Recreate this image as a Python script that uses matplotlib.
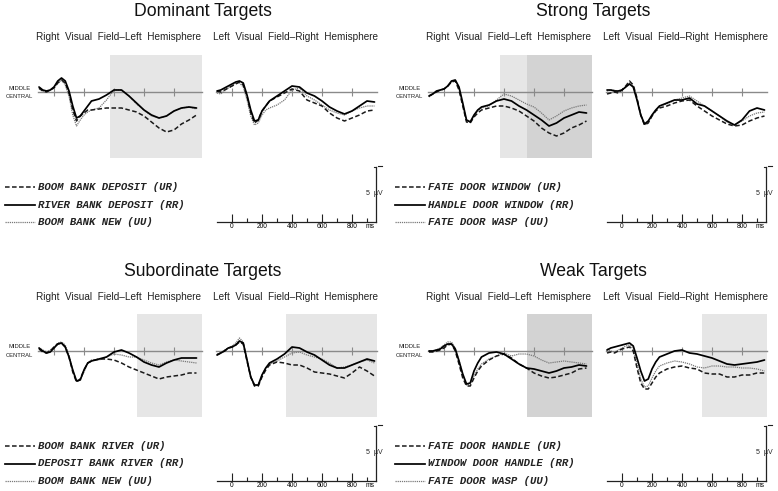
import matplotlib
matplotlib.use("Agg")
import matplotlib.pyplot as plt
import numpy as np

# figure size in pixels (dpi 100)
W, H = 778, 491

# sample times (ms) shared by all waveforms
times = [-100, -75, -50, -25, 0, 25, 50, 75, 100, 125, 150, 175, 200, 225, 250,
         300, 350, 400, 450, 500, 550, 600, 650, 700, 750, 800, 850, 900, 950]

titles = ["Dominant Targets", "Strong Targets", "Subordinate Targets", "Weak Targets"]
hemi_labels = ["Right  Visual  Field\u2013Left  Hemisphere",
               "Left  Visual  Field\u2013Right  Hemisphere"]
legend_labels = [
    ["BOOM BANK DEPOSIT (UR)", "RIVER BANK DEPOSIT (RR)", "BOOM BANK NEW (UU)"],
    ["FATE DOOR WINDOW (UR)", "HANDLE DOOR WINDOW (RR)", "FATE DOOR WASP (UU)"],
    ["BOOM BANK RIVER (UR)", "DEPOSIT BANK RIVER (RR)", "BOOM BANK NEW (UU)"],
    ["FATE DOOR HANDLE (UR)", "WINDOW DOOR HANDLE (RR)", "FATE DOOR WASP (UU)"],
]
time_ticks = [0, 200, 400, 600, 800]

# amplitudes (uV), positive up
dom_lh_ur = [0.4, 0.1, 0.0, 0.2, 0.4, 0.9, 1.2, 0.9, -0.1, -1.8, -2.9, -2.4, -2.1, -1.8, -1.8,
             -1.7, -1.6, -1.6, -1.6, -1.8, -2.0, -2.4, -3.0, -3.6, -4.0, -3.8, -3.2, -2.8, -2.3]
dom_lh_rr = [0.5, 0.2, 0.1, 0.2, 0.5, 1.1, 1.4, 1.1, 0.1, -1.4, -2.6, -2.4, -1.9, -1.4, -0.9,
             -0.7, -0.3, 0.2, 0.2, -0.4, -1.1, -1.8, -2.3, -2.6, -2.4, -1.9, -1.6, -1.5, -1.6]
dom_lh_uu = [0.3, 0.1, 0.0, 0.2, 0.4, 0.9, 1.2, 0.7, -0.4, -2.3, -3.4, -2.8, -2.3, -2.0, -1.8,
             -1.6, -0.8, 0.2, 0.2, -0.4, -1.2, -1.8, -2.4, -2.6, -2.4, -1.9, -1.6, -1.5, -1.7]

dom_rh_ur = [0.1, 0.0, 0.2, 0.4, 0.6, 0.8, 1.0, 0.7, -0.4, -2.1, -3.1, -2.8, -1.9, -1.4, -0.9,
             -0.5, -0.1, 0.3, 0.1, -0.8, -1.1, -1.4, -2.1, -2.6, -2.9, -2.6, -2.3, -1.9, -1.8]
dom_rh_rr = [0.1, 0.2, 0.4, 0.6, 0.8, 1.0, 1.1, 0.9, -0.3, -1.8, -2.9, -2.8, -1.9, -1.4, -0.9,
             -0.4, 0.1, 0.6, 0.5, -0.1, -0.4, -0.9, -1.5, -1.9, -2.2, -1.9, -1.4, -0.9, -1.0]
dom_rh_uu = [-0.1, -0.2, 0.1, 0.4, 0.6, 0.9, 0.9, 0.5, -0.8, -2.4, -3.3, -3.1, -2.3, -1.8, -1.6,
             -1.3, -0.8, 0.2, 0.4, -0.4, -0.8, -1.3, -1.8, -2.1, -2.3, -1.9, -1.6, -1.4, -1.4]

strong_lh_ur = [-0.4, -0.2, 0.0, 0.2, 0.3, 0.6, 1.0, 1.1, 0.2, -1.4, -3.0, -3.1, -2.5, -2.1, -1.8,
                -1.6, -1.4, -1.4, -1.6, -1.9, -2.4, -2.9, -3.6, -4.1, -4.4, -4.1, -3.6, -3.3, -2.9]
strong_lh_rr = [-0.4, -0.2, 0.1, 0.2, 0.3, 0.6, 1.1, 1.2, 0.5, -1.1, -2.8, -3.0, -2.3, -1.8, -1.5,
                -1.3, -0.9, -0.7, -0.9, -1.4, -1.8, -2.3, -2.8, -3.4, -3.1, -2.6, -2.3, -2.0, -2.1]
strong_lh_uu = [-0.5, -0.2, 0.0, 0.2, 0.3, 0.6, 1.0, 1.2, 0.4, -1.3, -2.8, -2.9, -2.4, -1.9, -1.6,
                -1.4, -0.8, -0.2, -0.4, -0.8, -1.2, -1.5, -2.1, -2.8, -2.4, -1.9, -1.6, -1.4, -1.3]

strong_rh_ur = [-0.2, -0.1, 0.0, -0.1, 0.2, 0.6, 1.1, 0.7, -0.6, -2.3, -3.3, -3.1, -2.4, -1.9, -1.6,
                -1.4, -1.1, -0.9, -0.8, -1.4, -1.9, -2.4, -2.8, -3.2, -3.4, -3.3, -2.9, -2.6, -2.4]
strong_rh_rr = [0.2, 0.2, 0.1, 0.1, 0.2, 0.5, 0.8, 0.5, -0.8, -2.3, -3.2, -2.9, -2.3, -1.8, -1.4,
                -1.1, -0.8, -0.8, -0.6, -1.2, -1.4, -1.9, -2.4, -2.9, -3.3, -2.8, -1.9, -1.6, -1.8]
strong_rh_uu = [0.1, 0.2, 0.2, 0.0, 0.2, 0.5, 0.9, 0.6, -0.7, -2.3, -3.3, -3.0, -2.4, -1.8, -1.4,
                -1.2, -0.8, -0.6, -0.4, -0.9, -1.4, -1.9, -2.4, -3.0, -3.3, -2.9, -2.4, -2.1, -2.0]

sub_lh_ur = [0.2, -0.1, -0.2, 0.0, 0.4, 0.7, 0.8, 0.4, -0.6, -2.1, -3.1, -2.8, -1.9, -1.2, -1.0,
             -0.8, -0.8, -0.9, -1.2, -1.6, -1.9, -2.2, -2.5, -2.8, -2.6, -2.5, -2.4, -2.2, -2.2]
sub_lh_rr = [0.3, 0.0, -0.2, -0.1, 0.3, 0.7, 0.8, 0.4, -0.6, -1.9, -3.0, -2.9, -1.9, -1.2, -1.0,
             -0.8, -0.6, -0.1, 0.1, -0.2, -0.6, -1.1, -1.4, -1.6, -1.2, -0.9, -0.7, -0.7, -0.7]
sub_lh_uu = [0.3, 0.1, -0.1, 0.1, 0.4, 0.8, 0.9, 0.6, -0.4, -1.9, -3.0, -2.8, -2.1, -1.2, -0.9,
             -0.9, -0.6, -0.3, -0.4, -0.6, -0.6, -0.9, -1.2, -1.4, -1.1, -0.9, -1.0, -1.1, -1.2]

sub_rh_ur = [-0.4, -0.2, 0.0, 0.3, 0.4, 0.6, 0.9, 0.7, -1.0, -2.6, -3.5, -3.5, -2.6, -1.9, -1.4,
             -1.1, -1.2, -1.4, -1.4, -1.7, -2.1, -2.2, -2.3, -2.5, -2.7, -2.2, -1.6, -2.0, -2.5]
sub_rh_rr = [-0.4, -0.2, 0.0, 0.3, 0.4, 0.6, 1.0, 0.8, -0.9, -2.6, -3.4, -3.4, -2.4, -1.7, -1.2,
             -0.8, -0.3, 0.4, 0.3, -0.1, -0.4, -0.9, -1.4, -1.7, -1.7, -1.4, -1.1, -0.8, -1.0]
sub_rh_uu = [-0.3, -0.2, 0.1, 0.3, 0.5, 0.8, 1.3, 0.9, -0.8, -2.6, -3.5, -3.4, -2.4, -1.7, -1.3,
             -1.0, -0.6, -0.2, -0.1, -0.4, -0.6, -0.8, -1.2, -1.7, -1.6, -1.4, -1.1, -0.9, -1.2]

weak_lh_ur = [-0.1, -0.1, 0.0, 0.1, 0.3, 0.6, 0.7, 0.0, -1.3, -2.7, -3.5, -3.5, -2.7, -2.0, -1.5,
              -0.9, -0.5, -0.3, -0.7, -1.3, -1.7, -2.2, -2.5, -2.7, -2.6, -2.4, -2.2, -1.8, -1.7]
weak_lh_rr = [0.0, 0.0, 0.1, 0.2, 0.5, 0.7, 0.7, 0.2, -1.0, -2.3, -3.3, -3.2, -2.0, -1.2, -0.6,
              -0.2, -0.1, -0.3, -0.8, -1.3, -1.7, -1.8, -2.0, -2.2, -2.0, -1.7, -1.6, -1.4, -1.5]
weak_lh_uu = [0.0, 0.0, 0.1, 0.3, 0.6, 0.9, 0.9, 0.3, -0.9, -2.4, -3.4, -3.3, -2.5, -1.8, -1.3,
              -0.8, -0.5, -0.2, -0.5, -0.3, -0.3, -0.5, -0.9, -1.2, -1.1, -1.0, -1.1, -1.2, -1.3]

weak_rh_ur = [-0.2, -0.1, -0.2, 0.0, 0.2, 0.3, 0.4, 0.0, -1.7, -3.2, -3.8, -3.8, -3.2, -2.6, -2.2,
              -1.8, -1.6, -1.5, -1.7, -1.8, -2.2, -2.3, -2.3, -2.6, -2.6, -2.4, -2.4, -2.2, -2.2]
weak_rh_rr = [0.1, 0.3, 0.4, 0.5, 0.6, 0.7, 0.8, 0.5, -0.7, -2.0, -3.0, -2.8, -1.8, -1.1, -0.6,
              -0.3, 0.0, 0.1, -0.2, -0.3, -0.5, -0.7, -1.0, -1.3, -1.4, -1.3, -1.2, -1.1, -0.9]
weak_rh_uu = [0.2, 0.0, -0.1, 0.1, 0.3, 0.5, 0.6, 0.2, -1.3, -2.8, -3.6, -3.5, -2.7, -2.0, -1.5,
              -1.2, -1.0, -1.1, -1.3, -1.6, -1.7, -1.5, -1.5, -1.6, -1.6, -1.7, -1.7, -1.8, -2.0]

waves = [
    [(dom_lh_ur, dom_lh_rr, dom_lh_uu), (dom_rh_ur, dom_rh_rr, dom_rh_uu)],
    [(strong_lh_ur, strong_lh_rr, strong_lh_uu), (strong_rh_ur, strong_rh_rr, strong_rh_uu)],
    [(sub_lh_ur, sub_lh_rr, sub_lh_uu), (sub_rh_ur, sub_rh_rr, sub_rh_uu)],
    [(weak_lh_ur, weak_lh_rr, weak_lh_uu), (weak_rh_ur, weak_rh_rr, weak_rh_uu)],
]

# analysis windows (start ms, shade) per panel / hemisphere
windows = [
    [[(375, "light")], []],
    [[(375, "light"), (550, "dark")], []],
    [[(550, "light")], [(360, "light")]],
    [[(550, "dark")], [(535, "light")]],
]
shade_colors = {"light": "#e6e6e6", "dark": "#d3d3d3"}

styles = [  # UR dashed, RR solid, UU dotted
    dict(color="#1a1a1a", lw=1.1, ls=(0, (3, 1.6)), zorder=4),
    dict(color="#000000", lw=1.25, ls="-", zorder=5),
    dict(color="#7a7a7a", lw=0.9, ls=(0, (1, 0.7)), zorder=3),
]

fig = plt.figure(figsize=(W / 100, H / 100), dpi=100)
fig.patch.set_facecolor("white")


def px_axes(x, y, w, h):
    return fig.add_axes([x / W, 1 - (y + h) / H, w / W, h / H])


def fig_text(x, y, s, **kw):
    fig.text(x / W, 1 - y / H, s, **kw)


PXMS = 0.15  # pixels per ms
xlims = [(-110, 985), (-110, 965)]
zero_x = [54, 232]

for p in range(4):
    ox = 390 * (p % 2)
    oy = 259 * (p // 2)
    fig_text(ox + 203, oy + 12, titles[p], ha="center", va="center",
             fontsize=12.7, family="Liberation Sans", color="#111111")
    for h in range(2):
        fig_text(ox + [118.5, 295.5][h], oy + 37.5, hemi_labels[h], ha="center",
                 va="center", fontsize=7.2, family="Liberation Sans", color="#222222")
        lo, hi = xlims[h]
        ax = px_axes(ox + zero_x[h] + lo * PXMS, oy + 55, (hi - lo) * PXMS, 103)
        ax.set_xlim(lo, hi)
        ax.set_ylim(-6.6, 3.7)
        for s in ["top", "right", "left"]:
            ax.spines[s].set_visible(False)
        ax.spines["bottom"].set_position(("data", 0))
        ax.spines["bottom"].set_color("#8a8a8a")
        ax.spines["bottom"].set_linewidth(1.0)
        ax.spines["bottom"].set_zorder(2)
        ax.set_yticks([])
        ax.set_xticks(time_ticks)
        ax.tick_params(axis="x", direction="inout", length=6, width=0.8,
                       color="#8a8a8a", labelbottom=False)
        ax.patch.set_alpha(0)
        segs = windows[p][h]
        for k, (start, shade) in enumerate(segs):
            end = segs[k + 1][0] if k + 1 < len(segs) else hi
            ax.axvspan(start, end, color=shade_colors[shade], lw=0, zorder=0)
        for vals, st in zip(waves[p][h], styles):
            ax.plot(times, vals, solid_capstyle="round", **st)

    # electrode label
    fig_text(ox + 19.5, oy + 88, "MIDDLE", ha="center", va="center", fontsize=4.2,
             family="Liberation Sans", color="#222222")
    fig_text(ox + 19.5, oy + 96.5, "CENTRAL", ha="center", va="center", fontsize=4.2,
             family="Liberation Sans", color="#222222")

    # legend
    lax = px_axes(ox, oy + 178, 200, 52)
    lax.set_xlim(0, 200)
    lax.set_ylim(52, 0)
    lax.axis("off")
    for k, (lab, st) in enumerate(zip(legend_labels[p], styles)):
        yy = 9 + 17.5 * k
        lax.plot([5, 35], [yy, yy], color=st["color"], lw=st["lw"], ls=st["ls"])
        lax.text(38, yy, lab, ha="left", va="center", fontsize=7.7,
                 family="Liberation Mono", style="italic", weight="bold", color="#222222")

    # calibration: time axis and 5 uV bar
    sax = px_axes(ox + 217, oy + 167, 159, 55)
    sax.set_xlim(-100, 960)
    sax.set_ylim(0, 5)
    sax.patch.set_alpha(0)
    sax.spines["top"].set_visible(False)
    sax.spines["left"].set_visible(False)
    for s in ["bottom", "right"]:
        sax.spines[s].set_linewidth(0.9)
        sax.spines[s].set_color("#222222")
    sax.set_yticks([])
    sax.set_xticks(time_ticks + [922])
    sax.set_xticklabels([str(t) for t in time_ticks] + ["ms"])
    sax.xaxis.get_major_ticks()[-1].tick1line.set_visible(False)
    sax.set_xticks([100, 300, 500, 700, 900], minor=True)
    sax.tick_params(axis="x", which="major", direction="in", length=6, width=0.8,
                    pad=1, labelsize=4.8, color="#222222")
    sax.tick_params(axis="x", which="minor", direction="in", length=3, width=0.8,
                    color="#222222")
    for lab in sax.get_xticklabels():
        lab.set_family("Liberation Sans")
    sax.plot([945, 960], [5, 5], color="#222222", lw=0.8, clip_on=False)
    sax.plot([975, 1000], [5.05, 5.05], color="#222222", lw=0.8, clip_on=False)
    sax.text(948, 2.6, "5  \u00b5V", ha="center", va="center", fontsize=5,
             family="Liberation Sans", color="#222222")

fig.savefig("out.png", dpi=100, facecolor="white")
